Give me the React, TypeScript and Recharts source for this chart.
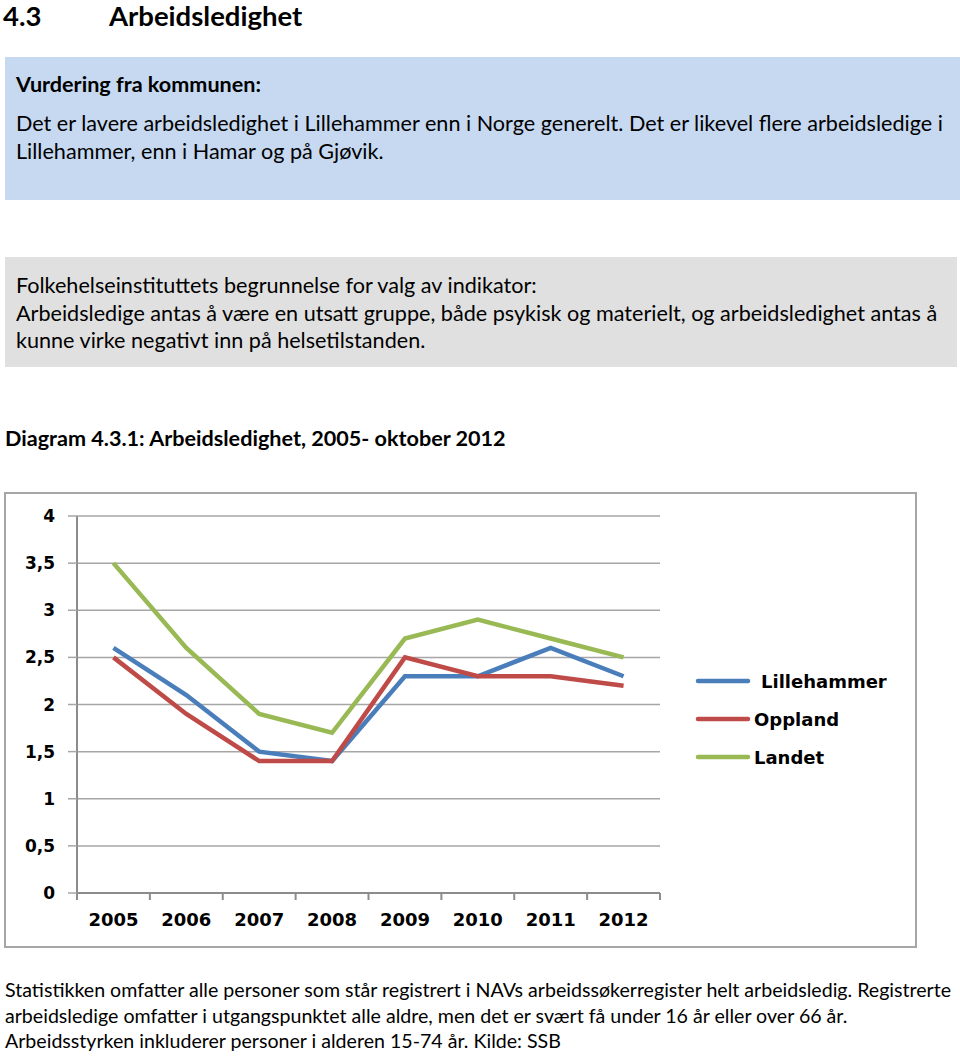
import React from 'react';
import {
  LineChart,
  Line,
  XAxis,
  YAxis,
  CartesianGrid,
  Legend,
} from 'recharts';

const years = ['2005', '2006', '2007', '2008', '2009', '2010', '2011', '2012'];
const seriesNames = ['Lillehammer', 'Oppland', 'Landet'];
const lillehammer = [2.6, 2.1, 1.5, 1.4, 2.3, 2.3, 2.6, 2.3];
const oppland = [2.5, 1.9, 1.4, 1.4, 2.5, 2.3, 2.3, 2.2];
const landet = [3.5, 2.6, 1.9, 1.7, 2.7, 2.9, 2.7, 2.5];
const yTicks = [0, 0.5, 1, 1.5, 2, 2.5, 3, 3.5, 4];

const data = years.map((year, i) => ({
  i,
  year,
  Lillehammer: lillehammer[i],
  Oppland: oppland[i],
  Landet: landet[i],
}));

// category centres + boundaries (boundaries get the little tick marks)
const xTicks: number[] = [];
for (let k = 0; k <= years.length; k++) {
  xTicks.push(k - 0.5);
  if (k < years.length) xTicks.push(k);
}

const chartFont = '"DejaVu Sans", Verdana, sans-serif';
const textFont = 'Lato, "Open Sans", sans-serif';

const XTick = (props: any) => {
  const { x, y, payload } = props;
  const v = payload.value;
  if (Number.isInteger(v)) {
    return (
      <text x={x} y={y + 27} dy="0.355em" textAnchor="middle" fontFamily={chartFont} fontWeight="bold" fontSize={18} fill="#000">
        {years[v]}
      </text>
    );
  }
  return <line x1={x} x2={x} y1={y} y2={y + 7} stroke="#8c8c8c" strokeWidth={2} />;
};

const LegendContent = (props: any) => {
  const items = [...(props.payload || [])].sort(
    (a: any, b: any) => seriesNames.indexOf(a.value) - seriesNames.indexOf(b.value)
  );
  return (
    <div>
      {items.map((p: any, idx: number) => (
        <div key={p.value} style={{ display: 'flex', alignItems: 'center', height: 38 }}>
          <svg width={56} height={10}>
            <line x1={3} x2={53} y1={5} y2={5} stroke={p.color} strokeWidth={4.5} strokeLinecap="round" />
          </svg>
          <span
            style={{
              fontFamily: chartFont,
              fontWeight: 'bold',
              fontSize: 18,
              color: '#000',
              marginLeft: idx === 0 ? 10 : 3,
            }}
          >
            {p.value}
          </span>
        </div>
      ))}
    </div>
  );
};

const TextLine = ({ x, y, text, size = 21.6, bold = false, lh = 26 }: any) => (
  <div
    style={{
      position: 'absolute',
      left: x,
      top: y - lh / 2,
      lineHeight: `${lh}px`,
      fontSize: size,
      fontWeight: bold ? 'bold' : 'normal',
      fontFamily: textFont,
      whiteSpace: 'nowrap',
      color: '#000',
    }}
  >
    {text}
  </div>
);

export default function App() {
  return (
    <div style={{ position: 'absolute', left: 0, top: 0, width: 960, height: 1056, background: '#fff', overflow: 'hidden' }}>
      <TextLine x={3} y={16} text="4.3" size={27.5} bold lh={32} />
      <TextLine x={109} y={16} text="Arbeidsledighet" size={27.5} bold lh={32} />

      <div style={{ position: 'absolute', left: 5, top: 57, width: 955, height: 143, background: '#c6d9f1' }} />
      <TextLine x={16} y={84} text="Vurdering fra kommunen:" bold />
      <TextLine x={16} y={123} text="Det er lavere arbeidsledighet i Lillehammer enn i Norge generelt. Det er likevel flere arbeidsledige i" />
      <TextLine x={16} y={151} text="Lillehammer, enn i Hamar og på Gjøvik." />

      <div style={{ position: 'absolute', left: 5, top: 257, width: 952, height: 110, background: '#e0e0e0' }} />
      <TextLine x={16} y={285} text="Folkehelseinstituttets begrunnelse for valg av indikator:" />
      <TextLine x={16} y={313} text="Arbeidsledige antas å være en utsatt gruppe, både psykisk og materielt, og arbeidsledighet antas å" />
      <TextLine x={16} y={340} text="kunne virke negativt inn på helsetilstanden." />

      <TextLine x={5} y={438} text="Diagram 4.3.1: Arbeidsledighet, 2005- oktober 2012" bold />

      <div style={{ position: 'absolute', left: 4, top: 492, width: 909, height: 452, border: '2px solid #a6a6a6' }} />
      <div style={{ position: 'absolute', left: 6, top: 494 }}>
        <LineChart width={905} height={450} data={data} margin={{ top: 22, right: 251, bottom: 21, left: 11 }}>
          <CartesianGrid vertical={false} stroke="#a6a6a6" strokeWidth={1.5} />
          <XAxis
            dataKey="i"
            type="number"
            domain={[-0.5, 7.5]}
            ticks={xTicks}
            interval={0}
            tickSize={0}
            tickMargin={0}
            tick={<XTick />}
            axisLine={{ stroke: '#8c8c8c', strokeWidth: 2 }}
          />
          <YAxis
            domain={[0, 4]}
            ticks={yTicks}
            interval={0}
            width={60}
            tickSize={9}
            tickMargin={13}
            tickFormatter={(v: number) => String(v).replace('.', ',')}
            tick={{ fontFamily: chartFont, fontWeight: 'bold', fontSize: 17, fill: '#000' }}
            tickLine={{ stroke: '#a6a6a6', strokeWidth: 1.5 }}
            axisLine={{ stroke: '#8c8c8c', strokeWidth: 2 }}
          />
          <Legend
            layout="vertical"
            align="center"
            verticalAlign="middle"
            content={<LegendContent />}
            wrapperStyle={{ left: 689, top: 168, width: 210 }}
          />
          <Line type="linear" dataKey="Lillehammer" stroke="#4a7ebb" strokeWidth={4.5} dot={false} isAnimationActive={false} />
          <Line type="linear" dataKey="Oppland" stroke="#be4b48" strokeWidth={4.5} dot={false} isAnimationActive={false} />
          <Line type="linear" dataKey="Landet" stroke="#98b954" strokeWidth={4.5} dot={false} isAnimationActive={false} />
        </LineChart>
      </div>

      <TextLine x={5} y={990} size={19.6} text="Statistikken omfatter alle personer som står registrert i NAVs arbeidssøkerregister helt arbeidsledig. Registrerte" />
      <TextLine x={5} y={1016} size={19.6} text="arbeidsledige omfatter i utgangspunktet alle aldre, men det er svært få under 16 år eller over 66 år." />
      <TextLine x={5} y={1041} size={19.6} text="Arbeidsstyrken inkluderer personer i alderen 15-74 år. Kilde: SSB" />
    </div>
  );
}
